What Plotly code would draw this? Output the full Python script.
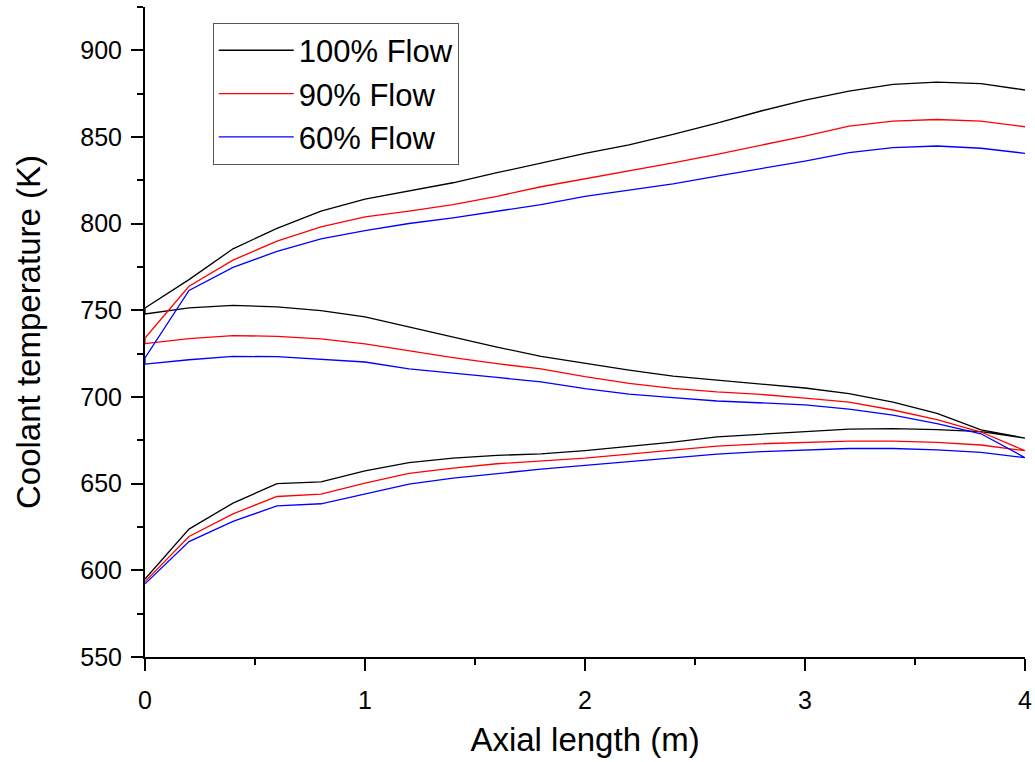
import plotly.graph_objects as go

# axial positions (m), one value every 0.2 m
axial = [0.0, 0.2, 0.4, 0.6, 0.8, 1.0, 1.2, 1.4, 1.6, 1.8, 2.0,
         2.2, 2.4, 2.6, 2.8, 3.0, 3.2, 3.4, 3.6, 3.8, 4.0]

# 100% flow
lower_100 = [595, 623.8, 638.8, 650, 651, 657.4, 662.2, 664.7, 666.3, 667.2, 669.1,
             671.5, 674, 677, 678.5, 680, 681.5, 681.7, 681.2, 680, 676.3]
middle_100 = [747.9, 751.4, 752.9, 752, 749.8, 746.2, 740.5, 734.6, 728.8, 723.4, 719.5,
              715.5, 712, 710, 707.5, 705.2, 702, 697, 690.5, 681, 676.3]
upper_100 = [751.4, 767.7, 785.5, 797.3, 807.2, 814.2, 818.8, 823.6, 829.4, 835.1, 840.5,
             845.5, 851.5, 858, 865, 871.3, 876.5, 880.4, 881.7, 880.8, 877.1]

# 90% flow
lower_90 = [593.5, 619.5, 632.6, 642.6, 644, 650.3, 656, 659, 661.5, 663.2, 664.7,
            667.1, 669.4, 671.7, 673, 673.8, 674.6, 674.6, 673.8, 672.3, 669]
middle_90 = [730.8, 733.7, 735.4, 735, 733.5, 730.6, 726.5, 722.7, 719.2, 716.2, 711.7,
             707.9, 705, 702.9, 701.5, 699.4, 697, 692.5, 687, 679.8, 669]
upper_90 = [734, 763.9, 779, 789.9, 798.2, 803.9, 807.2, 811, 815.8, 821.3, 825.8,
            830.3, 835.1, 840, 845.1, 850.5, 856.3, 859.2, 860.1, 859.2, 855.9]

# 60% flow
lower_60 = [592.2, 616.6, 628.2, 637.2, 638.4, 644.1, 649.7, 653.2, 656, 658.4, 660.5,
            662.8, 664.7, 667.1, 668.5, 669.5, 670.3, 670.3, 669.5, 668, 665]
middle_60 = [719, 721.5, 723.4, 723.3, 721.9, 720.2, 716.2, 713.9, 711.3, 708.7, 704.8,
             701.7, 699.6, 697.7, 696.5, 695.5, 693, 689.5, 684.6, 678.8, 665]
upper_60 = [722.5, 761.5, 774.8, 784, 791.2, 796, 800.1, 803.4, 807.2, 811, 815.8,
            819.3, 822.9, 827.4, 831.7, 836.1, 841, 843.9, 844.8, 843.5, 840.6]

series = [
    ("100% Flow", "#000000", lower_100, middle_100, upper_100),
    ("90% Flow", "#ff0000", lower_90, middle_90, upper_90),
    ("60% Flow", "#0000ff", lower_60, middle_60, upper_60),
]

FONT = "Arial, Liberation Sans, sans-serif"

fig = go.Figure()
for name, color, lower, middle, upper in series:
    # loop: lower leg 0->4, middle leg back 4->0, upper leg 0->4
    xs = axial + axial[::-1] + axial
    ys = lower + middle[::-1] + upper
    fig.add_trace(go.Scatter(x=xs, y=ys, mode="lines", name=name,
                             line=dict(color=color, width=1.3)))

axis_common = dict(showline=True, linecolor="black", linewidth=2,
                   ticks="outside", ticklen=12, tickwidth=2, tickcolor="black",
                   showgrid=False, zeroline=False, mirror=False, automargin=False,
                   tickfont=dict(family=FONT, size=25, color="black"))
minor_common = dict(ticks="outside", ticklen=6, tickwidth=2, tickcolor="black")

fig.update_layout(
    width=1035, height=762,
    margin=dict(l=145, r=10, t=7, b=105),
    plot_bgcolor="white", paper_bgcolor="white",
    hovermode=False,
    xaxis=dict(range=[0, 4], tickvals=[0, 1, 2, 3, 4], ticklabelstandoff=8,
               ticklabeloverflow="allow",
               minor=dict(dtick=0.5, **minor_common),
               title=dict(text="Axial length (m)", font=dict(family=FONT, size=33, color="black"),
                          standoff=15),
               **axis_common),
    yaxis=dict(range=[550, 925], tickvals=[550, 600, 650, 700, 750, 800, 850, 900],
               ticklabelstandoff=4,
               minor=dict(dtick=25, **minor_common),
               title=dict(text="Coolant temperature (K)", font=dict(family=FONT, size=33, color="black"),
                          standoff=30),
               **axis_common),
    legend=dict(x=0.077, y=0.976, xanchor="left", yanchor="top",
                bordercolor="#555555", borderwidth=1, bgcolor="white",
                font=dict(family=FONT, size=31, color="black"),
                itemwidth=75, tracegroupgap=0),
    showlegend=True,
)

# drop the default page margin so the figure fills the window exactly
fig.write_html("out.html", config={"staticPlot": True},
               post_script="document.body.style.margin='0';"
                           "document.documentElement.style.overflow='hidden';")
